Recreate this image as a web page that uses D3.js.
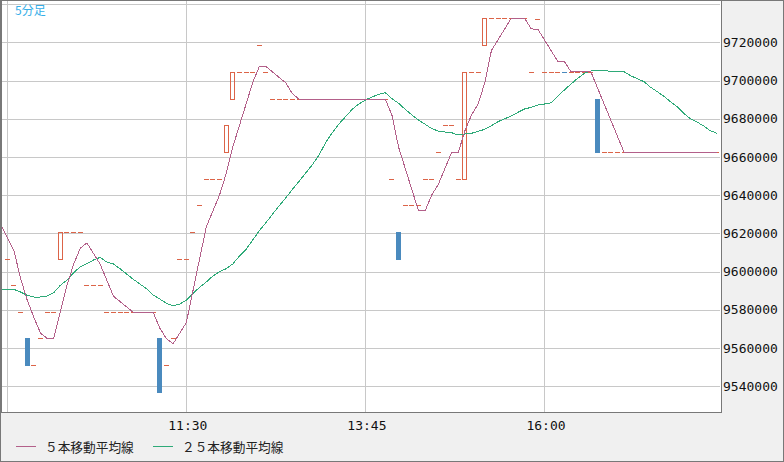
<!DOCTYPE html>
<html><head><meta charset="utf-8">
<script src="https://cdn.jsdelivr.net/npm/d3@7"></script>
<style>
html,body{margin:0;padding:0;background:#f0f0f0;}
svg{display:block;}
</style></head><body>
<svg id="chart" width="784" height="462"></svg>
<script>
// ---------------- data ----------------
const timeframeLabel = "5分足";
const candleStart = "09:15";   // first candle
const maStart = "09:10";       // moving averages start one bar earlier (clipped)
const barMinutes = 5;

const opens = [
  9606600, 9592800, 9578700, 9565300, 9551300, 9565300, 9578700, 9578700, 9606600, 9620600,
  9620600, 9620600, 9592800, 9592800, 9592800, 9578700, 9578700, 9578700, 9578700, 9578700,
  9578700, 9578700, 9578700, 9565300, 9551300, 9565300, 9606600, 9606600, 9620600, 9634700,
  9648300, 9648300, 9648300, 9662400, 9690200, 9704500, 9704500, 9704500, 9718600, 9704500,
  9690200, 9690200, 9690200, 9690200, 9690200, 9690200, 9690200, 9690200, 9690200, 9690200,
  9690200, 9690200, 9690200, 9690200, 9690200, 9690200, 9690200, 9690200, 9648300, 9620600,
  9634700, 9634700, 9634700, 9648300, 9648300, 9662400, 9676600, 9676600, 9648300, 9648300,
  9704500, 9704500, 9718600, 9732600, 9732600, 9732600, 9732600, 9732600, 9732600, 9704500,
  9732000, 9704500, 9704500, 9704500, 9704600, 9704500, 9704500, 9704500, 9704500, 9690200,
  9662400, 9662400, 9662400, 9662400, 9662400, 9662400, 9662400, 9662400, 9662400, 9662400,
  9662400, 9662400, 9662400, 9662400, 9662400, 9662400, 9662400, 9662400
];
const closes = [
  9606600, 9592800, 9578700, 9551300, 9551300, 9565300, 9578700, 9578700, 9620600, 9620600,
  9620600, 9620600, 9592800, 9592800, 9592800, 9578700, 9578700, 9578700, 9578700, 9578700,
  9578700, 9578700, 9578700, 9537200, 9551300, 9565300, 9606600, 9606600, 9620600, 9634700,
  9648300, 9648300, 9648300, 9676600, 9704500, 9704500, 9704500, 9704500, 9718600, 9704500,
  9690200, 9690200, 9690200, 9690200, 9690200, 9690200, 9690200, 9690200, 9690200, 9690200,
  9690200, 9690200, 9690200, 9690200, 9690200, 9690200, 9690200, 9690200, 9648300, 9606600,
  9634700, 9634700, 9634700, 9648300, 9648300, 9662400, 9676600, 9676600, 9648300, 9704500,
  9704500, 9704500, 9732600, 9732600, 9732600, 9732600, 9732600, 9732600, 9732600, 9704500,
  9732000, 9704500, 9704500, 9704500, 9704500, 9704500, 9704500, 9704500, 9704500, 9662400,
  9662400, 9662400, 9662400, 9662400, 9662400, 9662400, 9662400, 9662400, 9662400, 9662400,
  9662400, 9662400, 9662400, 9662400, 9662400, 9662400, 9662400, 9662400
];
const ma5 = [
  9624550, 9617960, 9610950, 9596500, 9585150, 9576140, 9567880, 9565060, 9565060, 9578920,
  9592780, 9603840, 9612220, 9615040, 9609480, 9603920, 9595540, 9587160, 9584340, 9581520,
  9578700, 9578700, 9578700, 9578700, 9570400, 9564920, 9562240, 9567820, 9573400, 9590080,
  9606760, 9623360, 9631700, 9640040, 9651240, 9665200, 9676440, 9687680, 9698920, 9707320,
  9707320, 9704460, 9701600, 9698740, 9693060, 9690200, 9690200, 9690200, 9690200, 9690200,
  9690200, 9690200, 9690200, 9690200, 9690200, 9690200, 9690200, 9690200, 9690200, 9681820,
  9665100, 9654000, 9642900, 9631800, 9631800, 9640140, 9645680, 9654060, 9662440, 9662440,
  9673680, 9682100, 9687680, 9698880, 9715740, 9721360, 9726980, 9732600, 9732600, 9732600,
  9726980, 9726860, 9721240, 9715620, 9710000, 9710000, 9704500, 9704500, 9704500, 9704500,
  9696080, 9687660, 9679240, 9670820, 9662400, 9662400, 9662400, 9662400, 9662400, 9662400,
  9662400, 9662400, 9662400, 9662400, 9662400, 9662400, 9662400, 9662400, 9662400
];
const ma25 = [
  9590700, 9590700, 9590700, 9589330, 9587610, 9586720, 9586720, 9587240, 9588970, 9592840,
  9595610, 9599430, 9602570, 9604140, 9606080, 9607490, 9605030, 9604000, 9601530, 9598750,
  9595980, 9593520, 9591060, 9587760, 9585670, 9583420, 9582010, 9583060, 9585150, 9588650,
  9591790, 9594570, 9597710, 9599960, 9601530, 9604000, 9608170, 9611680, 9616540, 9621410,
  9625600, 9630150, 9634490, 9638680, 9643080, 9647260, 9651610, 9655950, 9661020, 9667460,
  9672690, 9677250, 9681070, 9684940, 9687710, 9689810, 9691380, 9692790, 9693630, 9690490,
  9688080, 9684940, 9681960, 9679340, 9677090, 9674790, 9673580, 9673060, 9672690, 9671490,
  9672010, 9672380, 9673400, 9674470, 9676360, 9678450, 9680020, 9681430, 9683370, 9685100,
  9685990, 9687190, 9687710, 9688390, 9691900, 9695040, 9698180, 9701160, 9703780, 9704980,
  9705350, 9705140, 9704820, 9704460, 9704610, 9702520, 9700950, 9699380, 9696450, 9694150,
  9691740, 9688920, 9686300, 9682850, 9680020, 9678290, 9676200, 9673740, 9672380
];
const yGridValues = [9540000, 9560000, 9580000, 9600000, 9620000, 9640000, 9660000, 9680000, 9700000, 9720000, 9740000];
const yTickLabels = ["9540000", "9560000", "9580000", "9600000", "9620000", "9640000", "9660000", "9680000", "9700000", "9720000"];
const xGridTimes = ["09:15", "11:30", "13:45", "16:00"];
const xTickLabels = ["11:30", "13:45", "16:00"];
const legendLabels = ["５本移動平均線", "２５本移動平均線"];

// ---------------- styles ----------------
const C = {
  up: "#dc6448", down: "#4a8abe", ma5: "#b3608a", ma25: "#2eaa78",
  grid: "#c8c8c8", border: "#787878", label: "#35aee8", text: "#111"
};

const toMin = s => { const [h, m] = s.split(":").map(Number); return h * 60 + m; };

const svg = d3.select("#chart");
const x = d3.scaleLinear().domain([toMin("09:15"), toMin("16:00")]).range([7.3, 544.5]);
const y = d3.scaleLinear().domain([9540000, 9720000]).range([386.3, 42.3]);

// background / frame
svg.append("rect").attr("x", 0.5).attr("y", 0.5).attr("width", 783).attr("height", 461)
  .attr("fill", "#f0f0f0").attr("stroke", C.border);
svg.append("rect").attr("x", 1.5).attr("y", 0.5).attr("width", 720).attr("height", 412)
  .attr("fill", "#fff").attr("stroke", C.border);

svg.append("defs").append("clipPath").attr("id", "clip")
  .append("rect").attr("x", 2).attr("y", 1).attr("width", 718).attr("height", 411);

const g = svg.append("g").attr("clip-path", "url(#clip)").attr("shape-rendering", "crispEdges");

// grid
g.selectAll("line.hg").data(yGridValues).join("line").attr("class", "hg")
  .attr("x1", 2).attr("x2", 721)
  .attr("y1", d => Math.round(y(d)) + 0.5).attr("y2", d => Math.round(y(d)) + 0.5)
  .attr("stroke", C.grid);
g.selectAll("line.vg").data(xGridTimes).join("line").attr("class", "vg")
  .attr("y1", 1).attr("y2", 412)
  .attr("x1", d => Math.floor(x(toMin(d))) + 0.5).attr("x2", d => Math.floor(x(toMin(d))) + 0.5)
  .attr("stroke", C.grid);

// candles
const c0 = toMin(candleStart);
const candles = opens.map((o, i) => ({ t: c0 + i * barMinutes, o, c: closes[i] }));
candles.forEach(d => {
  const cx = x(d.t);
  const left = Math.round(cx - 2.5);
  const yo = Math.round(y(d.o)), yc = Math.round(y(d.c));
  if (d.o === d.c) {
    g.append("rect").attr("x", left).attr("y", yo).attr("width", 5).attr("height", 1).attr("fill", C.up);
  } else if (d.c > d.o) {
    g.append("rect").attr("x", left + 0.5).attr("y", yc + 0.5).attr("width", 4)
      .attr("height", Math.max(1, yo - yc)).attr("fill", "none").attr("stroke", C.up);
  } else {
    g.append("rect").attr("x", left).attr("y", yo).attr("width", 5)
      .attr("height", Math.max(1, yc - yo + 1)).attr("fill", C.down);
  }
});

// moving averages
const m0 = toMin(maStart);
const line = d3.line().x((d, i) => x(m0 + i * barMinutes)).y(d => y(d));
g.append("path").datum(ma25).attr("d", line).attr("fill", "none").attr("stroke", C.ma25).attr("stroke-width", 1);
g.append("path").datum(ma5).attr("d", line).attr("fill", "none").attr("stroke", C.ma5).attr("stroke-width", 1);

// y labels
svg.selectAll("text.yl").data(yTickLabels).join("text").attr("class", "yl")
  .attr("x", 723).attr("y", d => y(+d) + 4.6)
  .attr("font-family", "DejaVu Sans Mono").attr("font-size", 13).attr("fill", C.text)
  .text(d => d);

// x labels
svg.selectAll("text.xl").data(xTickLabels).join("text").attr("class", "xl")
  .attr("x", d => x(toMin(d)) + 1.5).attr("y", 430)
  .attr("text-anchor", "middle")
  .attr("font-family", "DejaVu Sans Mono").attr("font-size", 13).attr("fill", C.text)
  .text(d => d);

// timeframe label
svg.append("text").attr("x", 15).attr("y", 15)
  .attr("font-family", "Noto Sans CJK JP").attr("font-size", 12).attr("fill", C.label)
  .text(timeframeLabel);

// legend
const legendX = [16, 153];
const legendColors = [C.ma5, C.ma25];
legendLabels.forEach((lab, i) => {
  svg.append("line").attr("x1", legendX[i]).attr("x2", legendX[i] + 20)
    .attr("y1", 446.5).attr("y2", 446.5).attr("stroke", legendColors[i]).attr("shape-rendering", "crispEdges");
  svg.append("text").attr("x", legendX[i] + 29).attr("y", 452)
    .attr("font-family", "Noto Sans CJK JP").attr("font-size", 12.7).attr("fill", "#222")
    .text(lab);
});
</script>
</body></html>
